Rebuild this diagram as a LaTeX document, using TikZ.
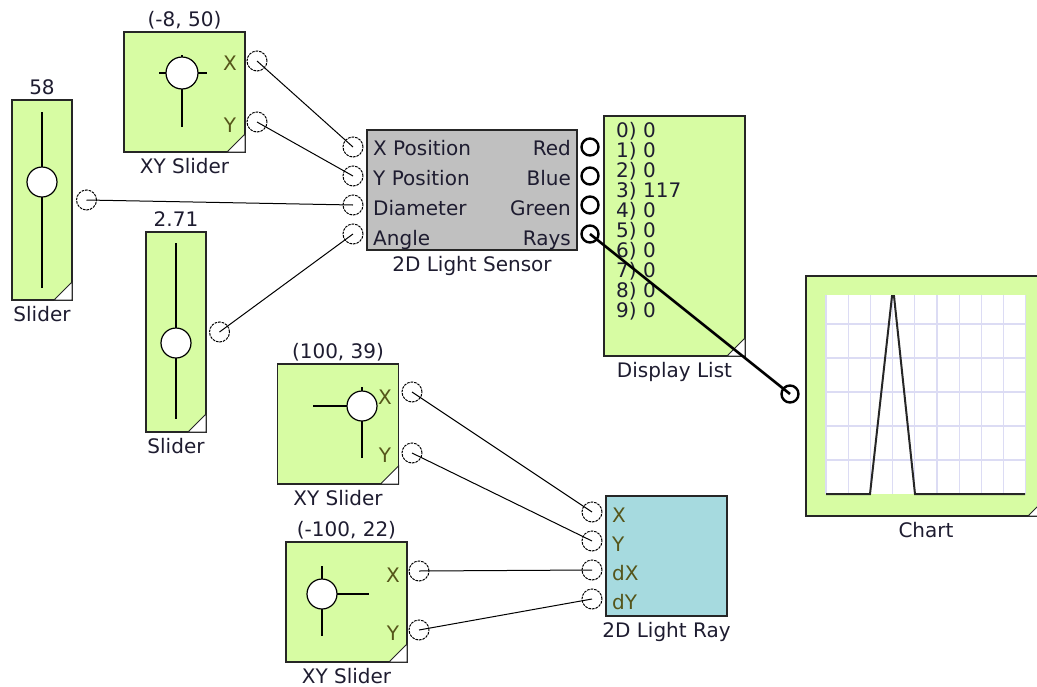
\documentclass[tikz,border=0pt]{standalone}
\usepackage{fontspec}
\setmainfont{DejaVu Sans}
\usetikzlibrary{positioning}
\definecolor{ink}   {HTML}{1E1C30}
\definecolor{leaf}  {HTML}{D7FCA3}
\definecolor{steel} {HTML}{C0C0C0}
\definecolor{aqua}  {HTML}{A6DADF}
\definecolor{olive} {HTML}{55551A}
\definecolor{gridln}{HTML}{DCDCF4}
\tikzset{
  block/.style   = {draw=black!85, line width=1.4pt, fill=leaf,
                    inner sep=0pt, outer sep=0pt},
  sensor/.style  = {block, fill=steel},
  raybox/.style  = {block, fill=aqua},
  val/.style     = {font=\fontsize{20}{22}\selectfont, text=ink,
                    inner sep=0pt, text height=14pt, text depth=0pt},
  plbl/.style    = {val, text=olive},
  pin/.style     = {circle, draw=black, line width=1pt,
                    dash pattern=on 2.6pt off 1pt,
                    minimum size=20pt, inner sep=0pt},
  pout/.style    = {circle, draw=black, line width=2.4pt,
                    minimum size=17pt, inner sep=0pt},
  knob/.style    = {circle, draw=black, line width=1.2pt, fill=white,
                    minimum size=30pt, inner sep=0pt},
  stick/.style   = {black, line width=1.4pt},
  wire/.style    = {black, line width=1pt},
  fatwire/.style = {black, line width=2.6pt},
}
\newcommand{\dogear}[1]{%
  \filldraw[fill=white, draw=black!85, line width=1pt]
    (#1.south east) ++(-18,0) -- (#1.south east) -- ++(0,-18) -- cycle;}

\begin{document}
\begin{tikzpicture}[x=1pt, y=-1pt]
  \useasboundingbox (0,0) rectangle (1037,686);
  \clip (0,0) rectangle (1037,686);

  % sliders
  \node[block, minimum width=60pt, minimum height=200pt] (sldA) at (42,200) {};
  \draw[stick] (42,112) -- (42,288);
  \node[knob] (sldA-k) at (42,182) {};
  \dogear{sldA}
  \node[val, above=5pt of sldA] (sldA-v) {58};
  \node[val, below=7pt of sldA] (sldA-n) {Slider};
  \node[pin, right=4pt of sldA] (sldA-o) {};

  \node[block, minimum width=60pt, minimum height=200pt] (sldB) at (176,332) {};
  \draw[stick] (176,243) -- (176,419);
  \node[knob] (sldB-k) at (176,343) {};
  \dogear{sldB}
  \node[val, above=5pt of sldB] (sldB-v) {2.71};
  \node[val, below=7pt of sldB] (sldB-n) {Slider};
  \node[pin, right=3pt of sldB] (sldB-o) {};

  % xy sliders
  \node[block, minimum width=121pt, minimum height=120pt] (xyA) at (184.5,92) {};
  \draw[stick] (159,73) -- (207,73) (182,55) -- (182,127);
  \node[knob, minimum size=32pt] (xyA-k) at (182,73) {};
  \dogear{xyA}
  \node[plbl] (xyA-lx) at (230,63) {X};
  \node[plbl] (xyA-ly) at (230,125) {Y};
  \node[val, above=5pt of xyA] (xyA-v) {(-8, 50)};
  \node[val, below=7pt of xyA] (xyA-n) {XY Slider};
  \node[pin] (xyA-x) at (257,61) {};
  \node[pin] (xyA-y) at (257,122) {};

  \node[block, minimum width=121pt, minimum height=120pt] (xyB) at (338,424) {};
  \draw[stick] (313,406) -- (372,406) (362,387) -- (362,458);
  \node[knob] (xyB-k) at (362,406) {};
  \dogear{xyB}
  \node[plbl] (xyB-lx) at (385,397) {X};
  \node[plbl] (xyB-ly) at (385,455) {Y};
  \node[val, above=5pt of xyB] (xyB-v) {(100, 39)};
  \node[val, below=7pt of xyB] (xyB-n) {XY Slider};
  \node[pin] (xyB-x) at (412,392) {};
  \node[pin] (xyB-y) at (412,453) {};

  \node[block, minimum width=121pt, minimum height=120pt] (xyC) at (346.5,602) {};
  \draw[stick] (311,594) -- (369,594) (322,566) -- (322,636);
  \node[knob] (xyC-k) at (322,594) {};
  \dogear{xyC}
  \node[plbl] (xyC-lx) at (393,575) {X};
  \node[plbl] (xyC-ly) at (393,633) {Y};
  \node[val, above=5pt of xyC] (xyC-v) {(-100, 22)};
  \node[val, below=7pt of xyC] (xyC-n) {XY Slider};
  \node[pin] (xyC-x) at (419,571) {};
  \node[pin] (xyC-y) at (419,630) {};

  % light sensor
  \node[sensor, minimum width=210pt, minimum height=120pt] (sen) at (472,190) {};
  \node[val, below=7pt of sen] (sen-n) {2D Light Sensor};
  \node[val, anchor=west] (sen-lx) at (373,148) {X Position};
  \node[val, anchor=west] (sen-ly) at (373,178) {Y Position};
  \node[val, anchor=west] (sen-ld) at (373,208) {Diameter};
  \node[val, anchor=west] (sen-la) at (373,238) {Angle};
  \node[val, anchor=east] (sen-lr) at (571,148) {Red};
  \node[val, anchor=east] (sen-lb) at (571,178) {Blue};
  \node[val, anchor=east] (sen-lg) at (571,208) {Green};
  \node[val, anchor=east] (sen-ls) at (571,238) {Rays};
  \node[pin] (sen-x) at (353,147) {};
  \node[pin] (sen-y) at (353,176) {};
  \node[pin] (sen-d) at (353,205) {};
  \node[pin] (sen-a) at (353,234) {};
  \node[pout] (sen-red)   at (590,147) {};
  \node[pout] (sen-blue)  at (590,176) {};
  \node[pout] (sen-green) at (590,205) {};
  \node[pout] (sen-rays)  at (590,234) {};

  % display list
  \node[block, minimum width=141pt, minimum height=240pt] (dlist) at (674.5,236) {};
  \dogear{dlist}
  \node[val, below=7pt of dlist] (dlist-n) {Display List};
  \foreach \v [count=\i from 0] in {0,0,0,117,0,0,0,0,0,0}
    \node[val, anchor=west] (dlist-\i) at (616,130+20*\i) {\i) \v};

  % chart
  \node[block, minimum width=240pt, minimum height=240pt] (chart) at (926,396) {};
  \fill[white] (826,295) rectangle (1026,494);
  \foreach \gx in {0,...,9}
    \draw[gridln, line width=1.2pt] (826+22.2*\gx,295) -- (826+22.2*\gx,494);
  \foreach \gy in {1,...,5}
    \draw[gridln, line width=1.2pt] (826,494-34*\gy) -- (1026,494-34*\gy);
  \draw[black!85, line width=2pt] (826,494) -- (870,494) -- (892,296)
    -- (894,296) -- (915,494) -- (1025,494);
  \dogear{chart}
  \node[val, below=7pt of chart] (chart-n) {Chart};
  \node[pout] (chart-in) at (790,394) {};

  % light ray
  \node[raybox, minimum width=121pt, minimum height=120pt] (ray) at (666.5,556) {};
  \node[val, below=7pt of ray] (ray-n) {2D Light Ray};
  \node[plbl, anchor=west] (ray-lx)  at (612,515) {X};
  \node[plbl, anchor=west] (ray-ly)  at (612,544) {Y};
  \node[plbl, anchor=west] (ray-ldx) at (612,573) {dX};
  \node[plbl, anchor=west] (ray-ldy) at (612,602) {dY};
  \node[pin] (ray-x)  at (592,512) {};
  \node[pin] (ray-y)  at (592,541) {};
  \node[pin] (ray-dx) at (592,570) {};
  \node[pin] (ray-dy) at (592,599) {};

  % wires
  \draw[wire] (xyA-x.center) -- (sen-x.center);
  \draw[wire] (xyA-y.center) -- (sen-y.center);
  \draw[wire] (sldA-o.center) -- (sen-d.center);
  \draw[wire] (sldB-o.center) -- (sen-a.center);
  \draw[fatwire] (sen-rays.center) -- (chart-in.center);
  \draw[wire] (xyB-x.center) -- (ray-x.center);
  \draw[wire] (xyB-y.center) -- (ray-y.center);
  \draw[wire] (xyC-x.center) -- (ray-dx.center);
  \draw[wire] (xyC-y.center) -- (ray-dy.center);

\end{tikzpicture}
\end{document}
